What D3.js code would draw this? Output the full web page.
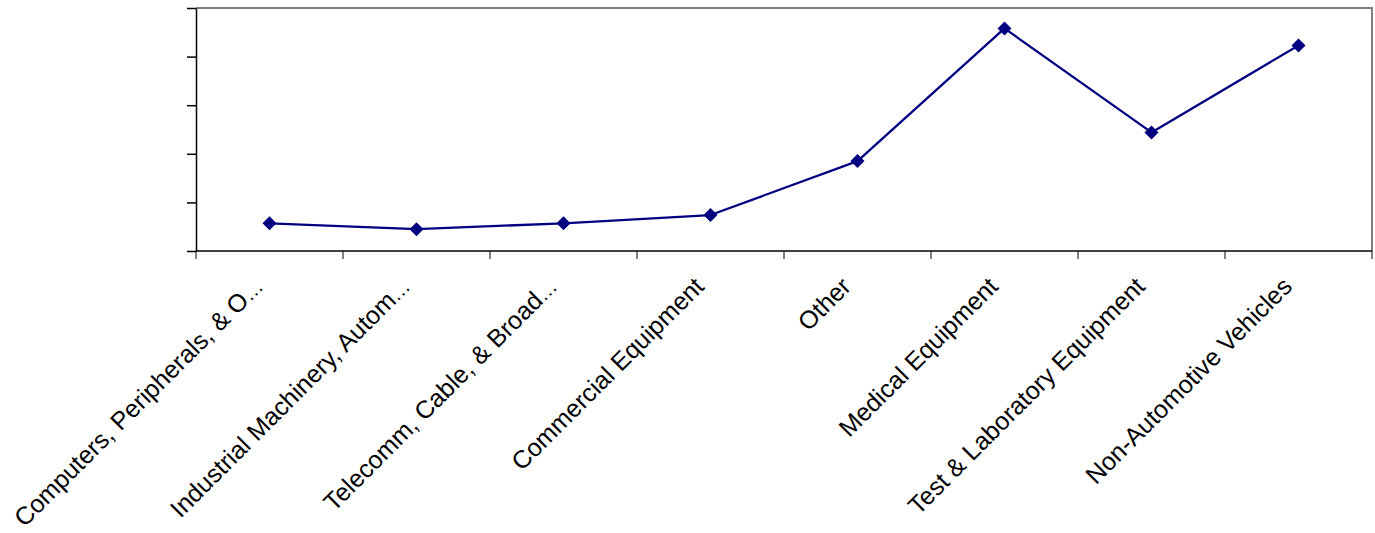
<!DOCTYPE html>
<html>
<head>
<meta charset="utf-8">
<script src="https://cdn.jsdelivr.net/npm/d3@7/dist/d3.min.js"></script>
<style>
  html, body { margin: 0; padding: 0; background: #fff; }
  svg { display: block; }
  .lbl { font-family: "Liberation Sans", Arial, sans-serif; font-size: 25px; fill: #000; }
</style>
</head>
<body>
<svg id="chart" width="1375" height="533"></svg>
<script>
// Market segments along the category axis
const categories = [
  "Computers, Peripherals, & O\u2026",
  "Industrial Machinery, Autom\u2026",
  "Telecomm, Cable, & Broad\u2026",
  "Commercial Equipment",
  "Other",
  "Medical Equipment",
  "Test & Laboratory Equipment",
  "Non-Automotive Vehicles"
];
// Series values (unlabelled value axis)
const values = [0.57, 0.45, 0.57, 0.74, 1.85, 4.58, 2.44, 4.23];
// Value-axis tick positions (no labels shown)
const yTicks = [0, 1, 2, 3, 4, 5];

const svg = d3.select("#chart");
const plot = { left: 196, right: 1372, top: 8, bottom: 251 };

const x = d3.scaleBand().domain(categories).range([plot.left, plot.right]).padding(0);
const y = d3.scaleLinear().domain([0, 5]).range([plot.bottom, plot.top]);

// Plot area frame: grey top and right edges
svg.append("path")
  .attr("d", `M${plot.left},${plot.top}H${plot.right}V${plot.bottom}`)
  .attr("fill", "none")
  .attr("stroke", "#808080")
  .attr("stroke-width", 2);

// Value axis (ticks only)
const yAxis = svg.append("g")
  .attr("transform", `translate(${plot.left},0)`)
  .call(d3.axisLeft(y).tickValues(yTicks).tickSize(9).tickSizeOuter(0).tickFormat(""));
yAxis.select(".domain").attr("stroke", "#000").attr("stroke-width", 1.5);
yAxis.selectAll(".tick line").attr("stroke", "#000").attr("stroke-width", 1.5);

// Category axis: ticks at band boundaries
const boundaries = categories.map(c => x(c)).concat([plot.right]);
const xAxisG = svg.append("g").attr("transform", `translate(0,${plot.bottom})`);
xAxisG.append("line")
  .attr("x1", plot.left).attr("x2", plot.right)
  .attr("stroke", "#000").attr("stroke-width", 1.5);
xAxisG.selectAll("line.tk").data(boundaries).join("line")
  .attr("class", "tk")
  .attr("x1", d => d).attr("x2", d => d)
  .attr("y1", 0).attr("y2", 8)
  .attr("stroke", "#000").attr("stroke-width", 1);

// Rotated category labels; a trailing ellipsis is set in a smaller size
const labels = svg.append("g").selectAll("text").data(categories).join("text")
  .attr("class", "lbl")
  .attr("text-anchor", "end")
  .attr("transform", d => `translate(${x(d) + x.bandwidth() / 2 - 5},288) rotate(-45)`);
labels.each(function(d) {
  const t = d3.select(this);
  if (d.endsWith("\u2026")) {
    t.append("tspan").text(d.slice(0, -1));
    t.append("tspan").attr("font-size", "20px").text("\u2026");
  } else {
    t.text(d);
  }
});

// Series line
const cx = (d, i) => x(categories[i]) + x.bandwidth() / 2;
const line = d3.line().x((d, i) => cx(d, i)).y(d => y(d));
svg.append("path")
  .datum(values)
  .attr("d", line)
  .attr("fill", "none")
  .attr("stroke", "#000080")
  .attr("stroke-width", 2.3)
  .attr("stroke-linejoin", "round");

// Diamond markers
svg.append("g").selectAll("path").data(values).join("path")
  .attr("transform", (d, i) => `translate(${cx(d, i)},${y(d)})`)
  .attr("d", "M0,-7L7,0L0,7L-7,0Z")
  .attr("fill", "#000080");
</script>
</body>
</html>
